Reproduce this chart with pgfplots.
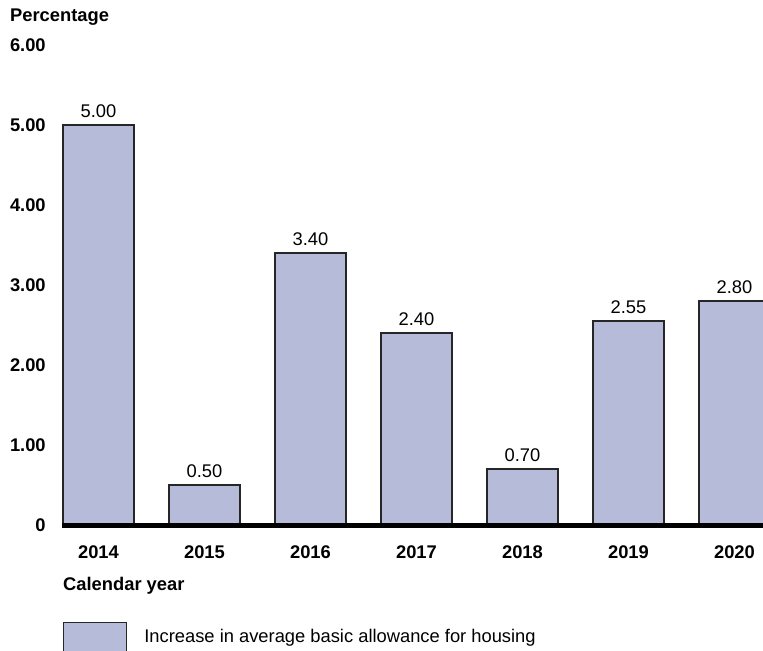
\documentclass[border=0pt]{standalone}
\usepackage{fontspec}
\setmainfont{Liberation Sans}
\usepackage{pgfplots}
\pgfplotsset{compat=1.18}
\definecolor{barfill}{RGB}{183,187,218}
\begin{document}
\fontsize{18.4}{22}\selectfont
\begin{tikzpicture}
\path[use as bounding box] (0,0) rectangle (763bp,-651bp);
\begin{axis}[
  at={(62bp,-525bp)}, anchor=south west,
  scale only axis, width=701bp, height=480bp,
  xmin=-0.344, xmax=6.269, ymin=0, ymax=6,
  axis on top,
  ybar, bar width=0.67,
  axis x line*=bottom, axis y line*=left,
  x axis line style={line width=5bp, black, -},
  y axis line style={draw=none},
  xtick={0,1,2,3,4,5,6}, xticklabels={2014,2015,2016,2017,2018,2019,2020},
  ytick={0,1,2,3,4,5,6}, yticklabels={0,1.00,2.00,3.00,4.00,5.00,6.00},
  tick style={draw=none},
  tick label style={font=\bfseries},
  yticklabel style={xshift=-10bp},
  xticklabel style={yshift=-10bp},
  nodes near coords={\pgfmathprintnumber[fixed,fixed zerofill,precision=2,assume math mode=true]{\pgfplotspointmeta}},
  every node near coord/.append style={font=\mdseries, anchor=base, yshift=8bp, text=black},
  legend style={at={(0.0014,-0.2015)}, anchor=north west, draw=none, fill=none, inner sep=0pt,
    nodes={inner sep=0pt}, cells={anchor=base west},
    /tikz/every odd column/.append style={column sep=17bp}},
  legend image code/.code={\draw[#1] (0bp,-12bp) rectangle (63bp,20bp);},
]
\addplot[fill=barfill, draw=black!85, line width=1.2bp] coordinates {(0,5.00) (1,0.50) (2,3.40) (3,2.40) (4,0.70) (5,2.55) (6,2.80)};
\addlegendentry{Increase in average basic allowance for housing}
\end{axis}
\node[anchor=base west, font=\bfseries, inner sep=0pt] at (10bp,-21bp) {Percentage};
\node[anchor=base west, font=\bfseries, inner sep=0pt] at (63bp,-590bp) {Calendar year};
\end{tikzpicture}
\end{document}
